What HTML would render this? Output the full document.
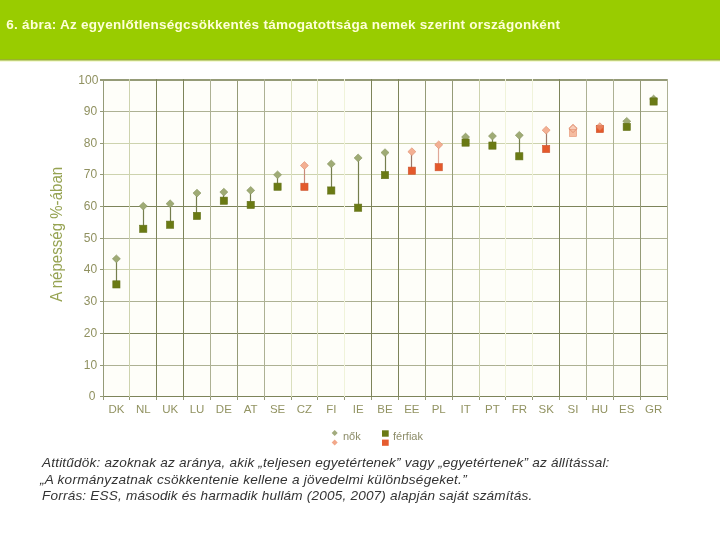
<!DOCTYPE html>
<html><head><meta charset="utf-8"><style>
html,body{margin:0;padding:0;background:#fff;}
body{width:720px;height:540px;position:relative;overflow:hidden;}
#hdr{position:absolute;left:0;top:0;width:720px;height:59px;background:#99cc00;border-bottom:1px solid #9ab22e;}
#hl{position:absolute;left:0;top:60px;width:720px;height:2px;background:linear-gradient(#c2d27c 0 1px,#f4f9d6 1px 2px);}
#title{position:absolute;left:6.3px;top:17px;font:bold 13.5px/16px "Liberation Sans",sans-serif;letter-spacing:0.27px;color:#ffffd8;white-space:nowrap;}
svg{position:absolute;left:0;top:0;}
.yl{font:12px "Liberation Sans",sans-serif;fill:#909160;text-anchor:end;}
.xl{font:11.5px "Liberation Sans",sans-serif;fill:#929362;text-anchor:middle;}
.yt{font:16.3px "Liberation Sans",sans-serif;fill:#96a352;}
.lg{font:11px "Liberation Sans",sans-serif;fill:#8c8c68;}
#notes{position:absolute;left:42px;top:454.9px;font:italic 13.6px/16.65px "Liberation Sans",sans-serif;letter-spacing:0.18px;color:#333;white-space:nowrap;}
</style></head><body>
<div id="hl"></div><div id="hdr"><div id="title">6. ábra: Az egyenlőtlenségcsökkentés támogatottsága nemek szerint országonként</div></div>
<svg width="720" height="540" viewBox="0 0 720 540">
<rect x="103" y="80" width="565" height="317" fill="#fefef9"/>
<line x1="103.3" y1="396.50" x2="667.5" y2="396.50" stroke="#7d845a" stroke-width="1"/>
<line x1="100" y1="396.50" x2="103.3" y2="396.50" stroke="#959b78" stroke-width="1"/>
<text x="95.4" y="400.20" class="yl">0</text>
<line x1="103.3" y1="365.50" x2="667.5" y2="365.50" stroke="#adb194" stroke-width="1"/>
<line x1="100" y1="365.50" x2="103.3" y2="365.50" stroke="#959b78" stroke-width="1"/>
<text x="97.1" y="369.20" class="yl">10</text>
<line x1="103.3" y1="333.50" x2="667.5" y2="333.50" stroke="#7d845a" stroke-width="1"/>
<line x1="100" y1="333.50" x2="103.3" y2="333.50" stroke="#959b78" stroke-width="1"/>
<text x="97.1" y="337.20" class="yl">20</text>
<line x1="103.3" y1="301.50" x2="667.5" y2="301.50" stroke="#adb194" stroke-width="1"/>
<line x1="100" y1="301.50" x2="103.3" y2="301.50" stroke="#959b78" stroke-width="1"/>
<text x="97.1" y="305.20" class="yl">30</text>
<line x1="103.3" y1="269.50" x2="667.5" y2="269.50" stroke="#cdd3ae" stroke-width="1"/>
<line x1="100" y1="269.50" x2="103.3" y2="269.50" stroke="#959b78" stroke-width="1"/>
<text x="97.1" y="273.20" class="yl">40</text>
<line x1="103.3" y1="238.50" x2="667.5" y2="238.50" stroke="#adb194" stroke-width="1"/>
<line x1="100" y1="238.50" x2="103.3" y2="238.50" stroke="#959b78" stroke-width="1"/>
<text x="97.1" y="242.20" class="yl">50</text>
<line x1="103.3" y1="206.50" x2="667.5" y2="206.50" stroke="#7d845a" stroke-width="1"/>
<line x1="100" y1="206.50" x2="103.3" y2="206.50" stroke="#959b78" stroke-width="1"/>
<text x="97.1" y="210.20" class="yl">60</text>
<line x1="103.3" y1="174.50" x2="667.5" y2="174.50" stroke="#cdd3ae" stroke-width="1"/>
<line x1="100" y1="174.50" x2="103.3" y2="174.50" stroke="#959b78" stroke-width="1"/>
<text x="97.1" y="178.20" class="yl">70</text>
<line x1="103.3" y1="143.50" x2="667.5" y2="143.50" stroke="#cdd3ae" stroke-width="1"/>
<line x1="100" y1="143.50" x2="103.3" y2="143.50" stroke="#959b78" stroke-width="1"/>
<text x="97.1" y="147.20" class="yl">80</text>
<line x1="103.3" y1="111.50" x2="667.5" y2="111.50" stroke="#adb194" stroke-width="1"/>
<line x1="100" y1="111.50" x2="103.3" y2="111.50" stroke="#959b78" stroke-width="1"/>
<text x="97.1" y="115.20" class="yl">90</text>
<line x1="103.3" y1="80.00" x2="667.5" y2="80.00" stroke="#959b78" stroke-width="2"/>
<line x1="100" y1="80.00" x2="103.3" y2="80.00" stroke="#959b78" stroke-width="2"/>
<text x="98.4" y="83.70" class="yl">100</text>
<line x1="103.50" y1="79.00" x2="103.50" y2="397.00" stroke="#959b78" stroke-width="1"/>
<line x1="103.50" y1="397.00" x2="103.50" y2="400.00" stroke="#959b78" stroke-width="1"/>
<line x1="129.50" y1="79.00" x2="129.50" y2="397.00" stroke="#cdd3ae" stroke-width="1"/>
<line x1="129.50" y1="397.00" x2="129.50" y2="400.00" stroke="#959b78" stroke-width="1"/>
<line x1="156.50" y1="79.00" x2="156.50" y2="397.00" stroke="#7d845a" stroke-width="1"/>
<line x1="156.50" y1="397.00" x2="156.50" y2="400.00" stroke="#959b78" stroke-width="1"/>
<line x1="183.50" y1="79.00" x2="183.50" y2="397.00" stroke="#7d845a" stroke-width="1"/>
<line x1="183.50" y1="397.00" x2="183.50" y2="400.00" stroke="#959b78" stroke-width="1"/>
<line x1="210.50" y1="79.00" x2="210.50" y2="397.00" stroke="#adb194" stroke-width="1"/>
<line x1="210.50" y1="397.00" x2="210.50" y2="400.00" stroke="#959b78" stroke-width="1"/>
<line x1="237.50" y1="79.00" x2="237.50" y2="397.00" stroke="#959b78" stroke-width="1"/>
<line x1="237.50" y1="397.00" x2="237.50" y2="400.00" stroke="#959b78" stroke-width="1"/>
<line x1="264.50" y1="79.00" x2="264.50" y2="397.00" stroke="#adb194" stroke-width="1"/>
<line x1="264.50" y1="397.00" x2="264.50" y2="400.00" stroke="#959b78" stroke-width="1"/>
<line x1="291.50" y1="79.00" x2="291.50" y2="397.00" stroke="#dadfbe" stroke-width="1"/>
<line x1="291.50" y1="397.00" x2="291.50" y2="400.00" stroke="#959b78" stroke-width="1"/>
<line x1="317.50" y1="79.00" x2="317.50" y2="397.00" stroke="#dadfbe" stroke-width="1"/>
<line x1="317.50" y1="397.00" x2="317.50" y2="400.00" stroke="#959b78" stroke-width="1"/>
<line x1="344.50" y1="79.00" x2="344.50" y2="397.00" stroke="#f0f3da" stroke-width="1"/>
<line x1="344.50" y1="397.00" x2="344.50" y2="400.00" stroke="#959b78" stroke-width="1"/>
<line x1="371.50" y1="79.00" x2="371.50" y2="397.00" stroke="#7d845a" stroke-width="1"/>
<line x1="371.50" y1="397.00" x2="371.50" y2="400.00" stroke="#959b78" stroke-width="1"/>
<line x1="398.50" y1="79.00" x2="398.50" y2="397.00" stroke="#7d845a" stroke-width="1"/>
<line x1="398.50" y1="397.00" x2="398.50" y2="400.00" stroke="#959b78" stroke-width="1"/>
<line x1="425.50" y1="79.00" x2="425.50" y2="397.00" stroke="#959b78" stroke-width="1"/>
<line x1="425.50" y1="397.00" x2="425.50" y2="400.00" stroke="#959b78" stroke-width="1"/>
<line x1="452.50" y1="79.00" x2="452.50" y2="397.00" stroke="#959b78" stroke-width="1"/>
<line x1="452.50" y1="397.00" x2="452.50" y2="400.00" stroke="#959b78" stroke-width="1"/>
<line x1="479.50" y1="79.00" x2="479.50" y2="397.00" stroke="#cdd3ae" stroke-width="1"/>
<line x1="479.50" y1="397.00" x2="479.50" y2="400.00" stroke="#959b78" stroke-width="1"/>
<line x1="505.50" y1="79.00" x2="505.50" y2="397.00" stroke="#f0f3da" stroke-width="1"/>
<line x1="505.50" y1="397.00" x2="505.50" y2="400.00" stroke="#959b78" stroke-width="1"/>
<line x1="532.50" y1="79.00" x2="532.50" y2="397.00" stroke="#f0f3da" stroke-width="1"/>
<line x1="532.50" y1="397.00" x2="532.50" y2="400.00" stroke="#959b78" stroke-width="1"/>
<line x1="559.50" y1="79.00" x2="559.50" y2="397.00" stroke="#7d845a" stroke-width="1"/>
<line x1="559.50" y1="397.00" x2="559.50" y2="400.00" stroke="#959b78" stroke-width="1"/>
<line x1="586.50" y1="79.00" x2="586.50" y2="397.00" stroke="#adb194" stroke-width="1"/>
<line x1="586.50" y1="397.00" x2="586.50" y2="400.00" stroke="#959b78" stroke-width="1"/>
<line x1="613.50" y1="79.00" x2="613.50" y2="397.00" stroke="#adb194" stroke-width="1"/>
<line x1="613.50" y1="397.00" x2="613.50" y2="400.00" stroke="#959b78" stroke-width="1"/>
<line x1="640.50" y1="79.00" x2="640.50" y2="397.00" stroke="#959b78" stroke-width="1"/>
<line x1="640.50" y1="397.00" x2="640.50" y2="400.00" stroke="#959b78" stroke-width="1"/>
<line x1="667.50" y1="79.00" x2="667.50" y2="397.00" stroke="#adb194" stroke-width="1"/>
<line x1="667.50" y1="397.00" x2="667.50" y2="400.00" stroke="#959b78" stroke-width="1"/>
<text x="116.40" y="413" class="xl">DK</text>
<text x="143.26" y="413" class="xl">NL</text>
<text x="170.12" y="413" class="xl">UK</text>
<text x="196.98" y="413" class="xl">LU</text>
<text x="223.84" y="413" class="xl">DE</text>
<text x="250.70" y="413" class="xl">AT</text>
<text x="277.56" y="413" class="xl">SE</text>
<text x="304.42" y="413" class="xl">CZ</text>
<text x="331.28" y="413" class="xl">FI</text>
<text x="358.14" y="413" class="xl">IE</text>
<text x="385.00" y="413" class="xl">BE</text>
<text x="411.86" y="413" class="xl">EE</text>
<text x="438.72" y="413" class="xl">PL</text>
<text x="465.58" y="413" class="xl">IT</text>
<text x="492.44" y="413" class="xl">PT</text>
<text x="519.30" y="413" class="xl">FR</text>
<text x="546.16" y="413" class="xl">SK</text>
<text x="573.02" y="413" class="xl">SI</text>
<text x="599.88" y="413" class="xl">HU</text>
<text x="626.74" y="413" class="xl">ES</text>
<text x="653.60" y="413" class="xl">GR</text>
<line x1="116.50" y1="258.80" x2="116.50" y2="284.40" stroke="#757e4e" stroke-width="1.2"/>
<line x1="143.50" y1="206.10" x2="143.50" y2="228.80" stroke="#757e4e" stroke-width="1.2"/>
<line x1="170.50" y1="203.70" x2="170.50" y2="224.70" stroke="#757e4e" stroke-width="1.2"/>
<line x1="196.50" y1="193.10" x2="196.50" y2="215.90" stroke="#757e4e" stroke-width="1.2"/>
<line x1="223.50" y1="192.10" x2="223.50" y2="200.70" stroke="#757e4e" stroke-width="1.2"/>
<line x1="250.50" y1="190.40" x2="250.50" y2="204.90" stroke="#757e4e" stroke-width="1.2"/>
<line x1="277.50" y1="174.80" x2="277.50" y2="186.70" stroke="#757e4e" stroke-width="1.2"/>
<line x1="304.50" y1="165.50" x2="304.50" y2="186.80" stroke="#c88a78" stroke-width="1.2"/>
<line x1="331.50" y1="163.90" x2="331.50" y2="190.50" stroke="#757e4e" stroke-width="1.2"/>
<line x1="358.50" y1="157.90" x2="358.50" y2="207.70" stroke="#757e4e" stroke-width="1.2"/>
<line x1="385.50" y1="152.60" x2="385.50" y2="175.10" stroke="#757e4e" stroke-width="1.2"/>
<line x1="411.50" y1="151.70" x2="411.50" y2="170.70" stroke="#9a7868" stroke-width="1.2"/>
<line x1="438.50" y1="144.80" x2="438.50" y2="167.20" stroke="#e0a898" stroke-width="1.2"/>
<line x1="465.50" y1="137.00" x2="465.50" y2="142.60" stroke="#757e4e" stroke-width="1.2"/>
<line x1="492.50" y1="136.10" x2="492.50" y2="145.60" stroke="#757e4e" stroke-width="1.2"/>
<line x1="519.50" y1="135.30" x2="519.50" y2="156.30" stroke="#757e4e" stroke-width="1.2"/>
<line x1="546.50" y1="130.20" x2="546.50" y2="149.00" stroke="#9a7868" stroke-width="1.2"/>
<line x1="573.50" y1="128.50" x2="573.50" y2="133.00" stroke="#e8a890" stroke-width="1.2"/>
<line x1="599.50" y1="126.70" x2="599.50" y2="129.00" stroke="#9a7868" stroke-width="1.2"/>
<line x1="626.50" y1="121.30" x2="626.50" y2="126.90" stroke="#757e4e" stroke-width="1.2"/>
<line x1="653.50" y1="99.00" x2="653.50" y2="101.50" stroke="#757e4e" stroke-width="1.2"/>
<path d="M116.40 254.90L120.40 258.80L116.40 262.70L112.40 258.80Z" fill="#9fab75" stroke="#87945e" stroke-width="0.6"/>
<path d="M143.26 202.20L147.26 206.10L143.26 210.00L139.26 206.10Z" fill="#9fab75" stroke="#87945e" stroke-width="0.6"/>
<path d="M170.12 199.80L174.12 203.70L170.12 207.60L166.12 203.70Z" fill="#9fab75" stroke="#87945e" stroke-width="0.6"/>
<path d="M196.98 189.20L200.98 193.10L196.98 197.00L192.98 193.10Z" fill="#9fab75" stroke="#87945e" stroke-width="0.6"/>
<path d="M223.84 188.20L227.84 192.10L223.84 196.00L219.84 192.10Z" fill="#9fab75" stroke="#87945e" stroke-width="0.6"/>
<path d="M250.70 186.50L254.70 190.40L250.70 194.30L246.70 190.40Z" fill="#9fab75" stroke="#87945e" stroke-width="0.6"/>
<path d="M277.56 170.90L281.56 174.80L277.56 178.70L273.56 174.80Z" fill="#9fab75" stroke="#87945e" stroke-width="0.6"/>
<path d="M304.42 161.60L308.42 165.50L304.42 169.40L300.42 165.50Z" fill="#f3b093" stroke="#dd8c6c" stroke-width="0.6"/>
<path d="M331.28 160.00L335.28 163.90L331.28 167.80L327.28 163.90Z" fill="#9fab75" stroke="#87945e" stroke-width="0.6"/>
<path d="M358.14 154.00L362.14 157.90L358.14 161.80L354.14 157.90Z" fill="#9fab75" stroke="#87945e" stroke-width="0.6"/>
<path d="M385.00 148.70L389.00 152.60L385.00 156.50L381.00 152.60Z" fill="#9fab75" stroke="#87945e" stroke-width="0.6"/>
<path d="M411.86 147.80L415.86 151.70L411.86 155.60L407.86 151.70Z" fill="#f3b093" stroke="#dd8c6c" stroke-width="0.6"/>
<path d="M438.72 140.90L442.72 144.80L438.72 148.70L434.72 144.80Z" fill="#f3b093" stroke="#dd8c6c" stroke-width="0.6"/>
<path d="M465.58 133.10L469.58 137.00L465.58 140.90L461.58 137.00Z" fill="#9fab75" stroke="#87945e" stroke-width="0.6"/>
<path d="M492.44 132.20L496.44 136.10L492.44 140.00L488.44 136.10Z" fill="#9fab75" stroke="#87945e" stroke-width="0.6"/>
<path d="M519.30 131.40L523.30 135.30L519.30 139.20L515.30 135.30Z" fill="#9fab75" stroke="#87945e" stroke-width="0.6"/>
<path d="M546.16 126.30L550.16 130.20L546.16 134.10L542.16 130.20Z" fill="#f3b093" stroke="#dd8c6c" stroke-width="0.6"/>
<path d="M573.02 124.60L577.02 128.50L573.02 132.40L569.02 128.50Z" fill="#f8cdb8" stroke="#de8a6a" stroke-width="0.6"/>
<path d="M599.88 122.80L603.88 126.70L599.88 130.60L595.88 126.70Z" fill="#f3b093" stroke="#dd8c6c" stroke-width="0.6"/>
<path d="M626.74 117.40L630.74 121.30L626.74 125.20L622.74 121.30Z" fill="#9fab75" stroke="#87945e" stroke-width="0.6"/>
<path d="M653.60 95.10L657.60 99.00L653.60 102.90L649.60 99.00Z" fill="#9fab75" stroke="#87945e" stroke-width="0.6"/>
<rect x="112.80" y="280.80" width="7.2" height="7.2" fill="#6a7a14" stroke="#64721a" stroke-width="0.6"/>
<rect x="139.66" y="225.20" width="7.2" height="7.2" fill="#6a7a14" stroke="#64721a" stroke-width="0.6"/>
<rect x="166.52" y="221.10" width="7.2" height="7.2" fill="#6a7a14" stroke="#64721a" stroke-width="0.6"/>
<rect x="193.38" y="212.30" width="7.2" height="7.2" fill="#6a7a14" stroke="#64721a" stroke-width="0.6"/>
<rect x="220.24" y="197.10" width="7.2" height="7.2" fill="#6a7a14" stroke="#64721a" stroke-width="0.6"/>
<rect x="247.10" y="201.30" width="7.2" height="7.2" fill="#6a7a14" stroke="#64721a" stroke-width="0.6"/>
<rect x="273.96" y="183.10" width="7.2" height="7.2" fill="#6a7a14" stroke="#64721a" stroke-width="0.6"/>
<rect x="300.82" y="183.20" width="7.2" height="7.2" fill="#e4592b" stroke="#cc5530" stroke-width="0.6"/>
<rect x="327.68" y="186.90" width="7.2" height="7.2" fill="#6a7a14" stroke="#64721a" stroke-width="0.6"/>
<rect x="354.54" y="204.10" width="7.2" height="7.2" fill="#6a7a14" stroke="#64721a" stroke-width="0.6"/>
<rect x="381.40" y="171.50" width="7.2" height="7.2" fill="#6a7a14" stroke="#64721a" stroke-width="0.6"/>
<rect x="408.26" y="167.10" width="7.2" height="7.2" fill="#e4592b" stroke="#cc5530" stroke-width="0.6"/>
<rect x="435.12" y="163.60" width="7.2" height="7.2" fill="#e4592b" stroke="#cc5530" stroke-width="0.6"/>
<rect x="461.98" y="139.00" width="7.2" height="7.2" fill="#6a7a14" stroke="#64721a" stroke-width="0.6"/>
<rect x="488.84" y="142.00" width="7.2" height="7.2" fill="#6a7a14" stroke="#64721a" stroke-width="0.6"/>
<rect x="515.70" y="152.70" width="7.2" height="7.2" fill="#6a7a14" stroke="#64721a" stroke-width="0.6"/>
<rect x="542.56" y="145.40" width="7.2" height="7.2" fill="#e4592b" stroke="#cc5530" stroke-width="0.6"/>
<rect x="569.42" y="129.40" width="7.2" height="7.2" fill="#f5bca0" stroke="#e49474" stroke-width="0.6"/>
<path d="M573.02 124.40L577.22 128.50L573.02 132.60L568.82 128.50Z" fill="none" stroke="#de8a6a" stroke-width="0.8"/>
<rect x="596.28" y="125.40" width="7.2" height="7.2" fill="#e4592b" stroke="#cc5530" stroke-width="0.6"/>
<path d="M599.88 122.80L603.88 126.70L599.88 130.60L595.88 126.70Z" fill="#f3b093" stroke="#dd8c6c" stroke-width="0.6" opacity="0.45"/>
<rect x="623.14" y="123.30" width="7.2" height="7.2" fill="#6a7a14" stroke="#64721a" stroke-width="0.6"/>
<rect x="650.00" y="97.90" width="7.2" height="7.2" fill="#6a7a14" stroke="#64721a" stroke-width="0.6"/>
<text class="yt" transform="translate(61.7,301.7) rotate(-90) scale(0.925,1)">A népesség %-ában</text>
<path d="M334.7 430L337.7 433L334.7 436L331.7 433Z" fill="#a2ab7d"/>
<path d="M334.7 439.5L337.7 442.5L334.7 445.5L331.7 442.5Z" fill="#f2a88a"/>
<text class="lg" x="343" y="440">nők</text>
<rect x="382" y="430.3" width="6.7" height="6.4" fill="#6a7a14"/>
<rect x="382" y="439.6" width="6.7" height="6.2" fill="#e55c2f"/>
<text class="lg" x="393" y="440">férfiak</text>
</svg>
<div id="notes">Attitűdök: azoknak az aránya, akik „teljesen egyetértenek” vagy „egyetértenek” az állítással:<br><span style="margin-left:-2px;letter-spacing:0.24px">„A kormányzatnak csökkentenie kellene a jövedelmi különbségeket.”</span><br>Forrás: ESS, második és harmadik hullám (2005, 2007) alapján saját számítás.</div>
</body></html>
